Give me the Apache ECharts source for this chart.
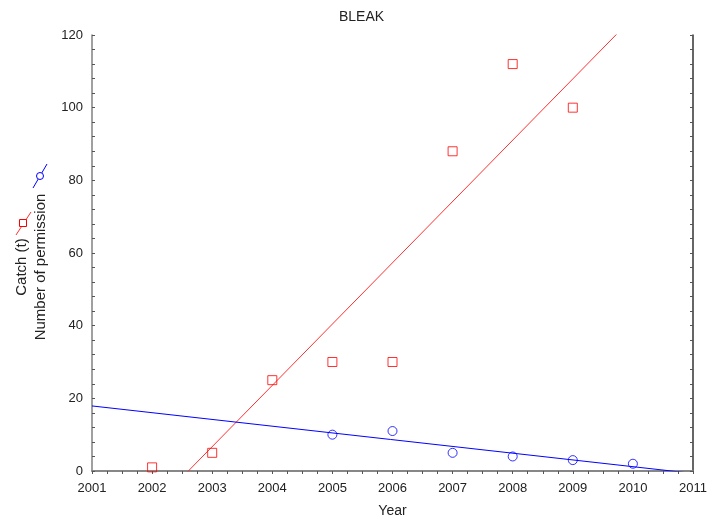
<!DOCTYPE html>
<html>
<head>
<meta charset="utf-8">
<script src="https://cdn.jsdelivr.net/npm/echarts@6/dist/echarts.min.js"></script>
<style>
  html, body { margin: 0; padding: 0; background: #fff; }
  #chart { width: 708px; height: 521px; }
</style>
</head>
<body>
<div id="chart"></div>
<script>
// catch (t) per year
var catchYears = [2002, 2003, 2004, 2005, 2006, 2007, 2008, 2009];
var catchValues = [1, 5, 25, 30, 30, 88, 112, 100];
// number of permissions per year
var permYears = [2005, 2006, 2007, 2008, 2009, 2010];
var permValues = [10, 11, 5, 4, 3, 2];

var xMin = 2001, xMax = 2011;
var yMin = 0, yMax = 120;

// least squares fit, returns line through whole x range (grid clips it)
function fitLine(xs, ys) {
    var n = xs.length, mx = 0, my = 0, sxy = 0, sxx = 0;
    for (var i = 0; i < n; i++) { mx += xs[i]; my += ys[i]; }
    mx /= n; my /= n;
    for (var j = 0; j < n; j++) {
        sxy += (xs[j] - mx) * (ys[j] - my);
        sxx += (xs[j] - mx) * (xs[j] - mx);
    }
    var b = sxy / sxx, a = my - b * mx;
    return [[xMin, a + b * xMin], [xMax, a + b * xMax]];
}

function pairs(xs, ys) {
    return xs.map(function (x, i) { return [x, ys[i]]; });
}

var font = 'Liberation Sans, Arial, sans-serif';
var axisGray = '#808080';
var textColor = '#222';

var option = {
    animation: false,
    backgroundColor: '#fff',
    title: {
        text: 'BLEAK',
        left: 334,
        top: 5,
        textStyle: { fontFamily: font, fontSize: 14, fontWeight: 'normal', color: textColor }
    },
    grid: { left: 92, right: 15, top: 35, bottom: 50, containLabel: false, outerBoundsMode: 'none' },
    xAxis: [{
        type: 'value',
        min: xMin, max: xMax, interval: 1,
        name: 'Year',
        nameLocation: 'middle',
        nameGap: 33,
        nameTextStyle: { fontFamily: font, fontSize: 14, color: textColor },
        axisLine: { lineStyle: { color: axisGray, width: 1.5 } },
        axisTick: { show: false },
        splitLine: { show: false },
        axisLabel: {
            fontFamily: font, fontSize: 13, color: textColor, margin: 11,
            formatter: function (v) { return String(v); }
        }
    }, {
        type: 'value',
        position: 'top',
        min: xMin, max: xMax, interval: 1,
        axisLine: { show: true, lineStyle: { color: axisGray, width: 1.5 } },
        axisTick: { show: true, inside: true, length: 3, lineStyle: { color: '#555' } },
        minorTick: { show: true, splitNumber: 4, length: 3, lineStyle: { color: '#555' } },
        splitLine: { show: false },
        axisLabel: { show: false }
    }],
    yAxis: [{
        type: 'value',
        min: yMin, max: yMax, interval: 20,
        axisLine: { show: true, lineStyle: { color: axisGray, width: 1.5 } },
        axisTick: { show: true, inside: true, length: 3, lineStyle: { color: '#555' } },
        minorTick: { show: true, splitNumber: 5, length: 3, lineStyle: { color: '#555' } },
        splitLine: { show: false },
        axisLabel: { fontFamily: font, fontSize: 13, color: textColor, margin: 9 }
    }, {
        type: 'value',
        position: 'right',
        min: yMin, max: yMax, interval: 20,
        axisLine: { show: true, lineStyle: { color: '#333', width: 1.5 } },
        axisTick: { show: true, inside: true, length: 3, lineStyle: { color: '#555' } },
        minorTick: { show: true, splitNumber: 5, length: 3, lineStyle: { color: '#555' } },
        splitLine: { show: false },
        axisLabel: { show: false }
    }],
    series: [{
        name: 'Catch fit',
        type: 'line',
        showSymbol: false,
        clip: true,
        z: 1,
        lineStyle: { color: '#ff3030', width: 1 },
        data: fitLine(catchYears, catchValues)
    }, {
        name: 'Permission fit',
        type: 'line',
        showSymbol: false,
        clip: true,
        z: 1,
        lineStyle: { color: '#0000ff', width: 1 },
        data: fitLine(permYears, permValues)
    }, {
        name: 'Catch (t)',
        type: 'scatter',
        symbol: 'rect',
        symbolSize: 9,
        itemStyle: { color: 'transparent', borderColor: '#ff0000', borderWidth: 1 },
        data: pairs(catchYears, catchValues),
        z: 3
    }, {
        name: 'Number of permission',
        type: 'scatter',
        symbol: 'circle',
        symbolSize: 9,
        itemStyle: { color: 'transparent', borderColor: '#0000ff', borderWidth: 1 },
        data: pairs(permYears, permValues),
        z: 3
    }],
    // rotated legend, drawn as axis title like the original
    graphic: [{
        type: 'text',
        x: 22, y: 267,
        rotation: Math.PI / 2,
        style: { text: 'Catch (t)', fontFamily: font, fontSize: 15, fill: textColor, align: 'center', verticalAlign: 'middle' }
    }, {
        type: 'text',
        x: 41, y: 267,
        rotation: Math.PI / 2,
        style: { text: 'Number of permission', fontFamily: font, fontSize: 15, fill: textColor, align: 'center', verticalAlign: 'middle' }
    }, {
        type: 'line',
        shape: { x1: 16, y1: 235, x2: 31, y2: 212 },
        style: { stroke: '#ff3030', lineWidth: 1 }
    }, {
        type: 'rect',
        shape: { x: 19.5, y: 219.5, width: 7, height: 7 },
        style: { fill: '#fff', stroke: '#ff0000', lineWidth: 1 }
    }, {
        type: 'line',
        shape: { x1: 33, y1: 188, x2: 47, y2: 164 },
        style: { stroke: '#0000ff', lineWidth: 1 }
    }, {
        type: 'circle',
        shape: { cx: 40, cy: 176, r: 3.5 },
        style: { fill: '#fff', stroke: '#0000ff', lineWidth: 1 }
    }]
};

var myChart = echarts.init(document.getElementById('chart'));
myChart.setOption(option);
</script>
</body>
</html>
